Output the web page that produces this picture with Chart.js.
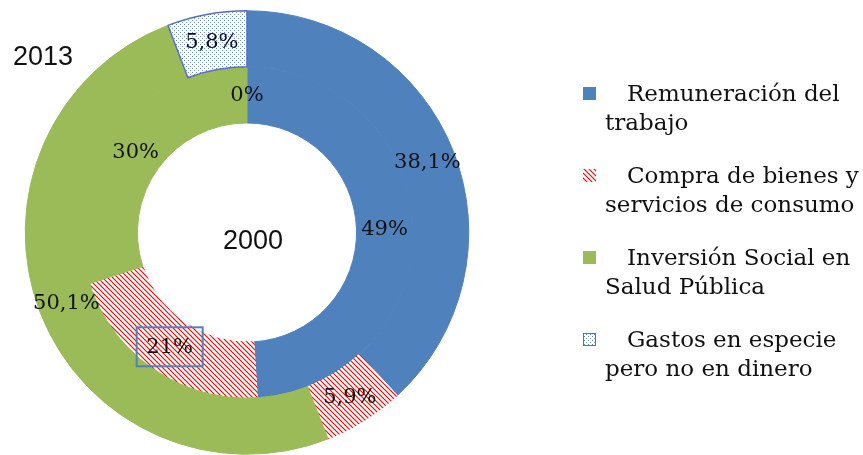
<!DOCTYPE html>
<html>
<head>
<meta charset="utf-8">
<script src="https://cdn.jsdelivr.net/npm/chart.js@4/dist/chart.umd.min.js"></script>
<style>
    html, body { margin: 0; padding: 0; background: #fff; overflow: hidden; }
</style>
</head>
<body>
<canvas id="chart" width="863" height="455"></canvas>
<script>
// Data
const categories = [
    ['Remuneración del', 'trabajo'],
    ['Compra de bienes y', 'servicios de consumo'],
    ['Inversión Social en', 'Salud Pública'],
    ['Gastos en especie', 'pero no en dinero'],
];
const years = ['2013', '2000'];
const values2013 = [38.1, 5.9, 50.1, 5.8];
const values2000 = [49, 21, 30, 0];

// Styles
const blue = '#4F81BD';
const green = '#9BBB59';
const dotBorder = '#5570C2';
const serif = '"DejaVu Serif", serif';
const sans = '"Liberation Sans", Arial, sans-serif';

const makeHatch = () => {
    const c = document.createElement('canvas');
    c.width = 5;
    c.height = 5;
    const g = c.getContext('2d');
    g.fillStyle = '#fff';
    g.fillRect(0, 0, 5, 5);
    g.strokeStyle = '#F20000';
    g.lineWidth = 1.1;
    g.beginPath();
    g.moveTo(-1, -1); g.lineTo(6, 6);
    g.moveTo(-1, 4); g.lineTo(1, 6);
    g.moveTo(4, -1); g.lineTo(6, 1);
    g.stroke();
    return g.createPattern(c, 'repeat');
};

const makeDots = () => {
    const c = document.createElement('canvas');
    c.width = 4;
    c.height = 4;
    const g = c.getContext('2d');
    g.fillStyle = '#fff';
    g.fillRect(0, 0, 4, 4);
    g.fillStyle = '#6F8CCB';
    g.fillRect(0, 0, 1, 1);
    g.fillRect(2, 2, 1, 1);
    return g.createPattern(c, 'repeat');
};

const hatch = makeHatch();
const dots = makeDots();
const fills = [blue, hatch, green, dots];

// "21%" of 2000 sits in a framed box
const boxedLabels = [[1, 1]];

const sliceLabels = {
    id: 'sliceLabels',
    afterDatasetsDraw(chart) {
        const { ctx } = chart;
        ctx.save();
        ctx.font = `21px ${serif}`;
        ctx.textAlign = 'center';
        ctx.textBaseline = 'middle';
        chart.data.datasets.forEach((ds, di) => {
            chart.getDatasetMeta(di).data.forEach((arc, i) => {
                const { x, y } = arc.tooltipPosition();
                const text = `${String(ds.data[i]).replace('.', ',')}%`;
                if (boxedLabels.some(([d, k]) => d === di && k === i)) {
                    ctx.strokeStyle = blue;
                    ctx.lineWidth = 2;
                    ctx.strokeRect(x - 33, y - 19, 66, 39);
                }
                ctx.fillStyle = '#111';
                ctx.fillText(text, x, y + 1);
            });
        });

        // ring titles
        const meta = chart.getDatasetMeta(0);
        const cx = meta.data[0].x;
        const cy = meta.data[0].y;
        ctx.font = `27px ${sans}`;
        ctx.textBaseline = 'alphabetic';
        ctx.fillText(years[0], 43, 65);
        ctx.fillText(years[1], cx + 6, cy + 16);
        ctx.restore();
    },
};

const sideLegend = {
    id: 'sideLegend',
    afterDraw(chart) {
        const { ctx } = chart;
        ctx.save();
        ctx.font = `23px ${serif}`;
        ctx.textBaseline = 'alphabetic';
        ctx.textAlign = 'left';
        categories.forEach((lines, i) => {
            const base = 101 + i * 82;
            ctx.fillStyle = fills[i];
            ctx.fillRect(583, base - 14, 13, 13);
            if (i === 3) {
                ctx.strokeStyle = dotBorder;
                ctx.lineWidth = 1;
                ctx.strokeRect(583.5, base - 13.5, 12, 12);
            }
            ctx.fillStyle = '#111';
            ctx.fillText(lines[0], 627, base);
            ctx.fillText(lines[1], 605, base + 29);
        });
        ctx.restore();
    },
};

const ctx = document.getElementById('chart').getContext('2d');

// eslint-disable-next-line no-new
new Chart(ctx, {
    type: 'doughnut',
    data: {
        labels: categories,
        datasets: [
            {
                label: years[0],
                data: values2013,
                backgroundColor: fills,
                borderColor: [blue, hatch, green, dotBorder],
                borderWidth: [1, 1, 1, 1.5],
            },
            {
                label: years[1],
                data: values2000,
                backgroundColor: fills,
                borderColor: [blue, hatch, green, dots],
                borderWidth: [1, 1, 1, 0],
            },
        ],
    },
    options: {
        responsive: false,
        animation: false,
        devicePixelRatio: 1,
        cutout: '49.4%',
        layout: {
            padding: { left: 24, top: 10, right: 393, bottom: 0 },
        },
        plugins: {
            legend: { display: false },
            tooltip: { enabled: false },
        },
    },
    plugins: [sliceLabels, sideLegend],
});
</script>
</body>
</html>
